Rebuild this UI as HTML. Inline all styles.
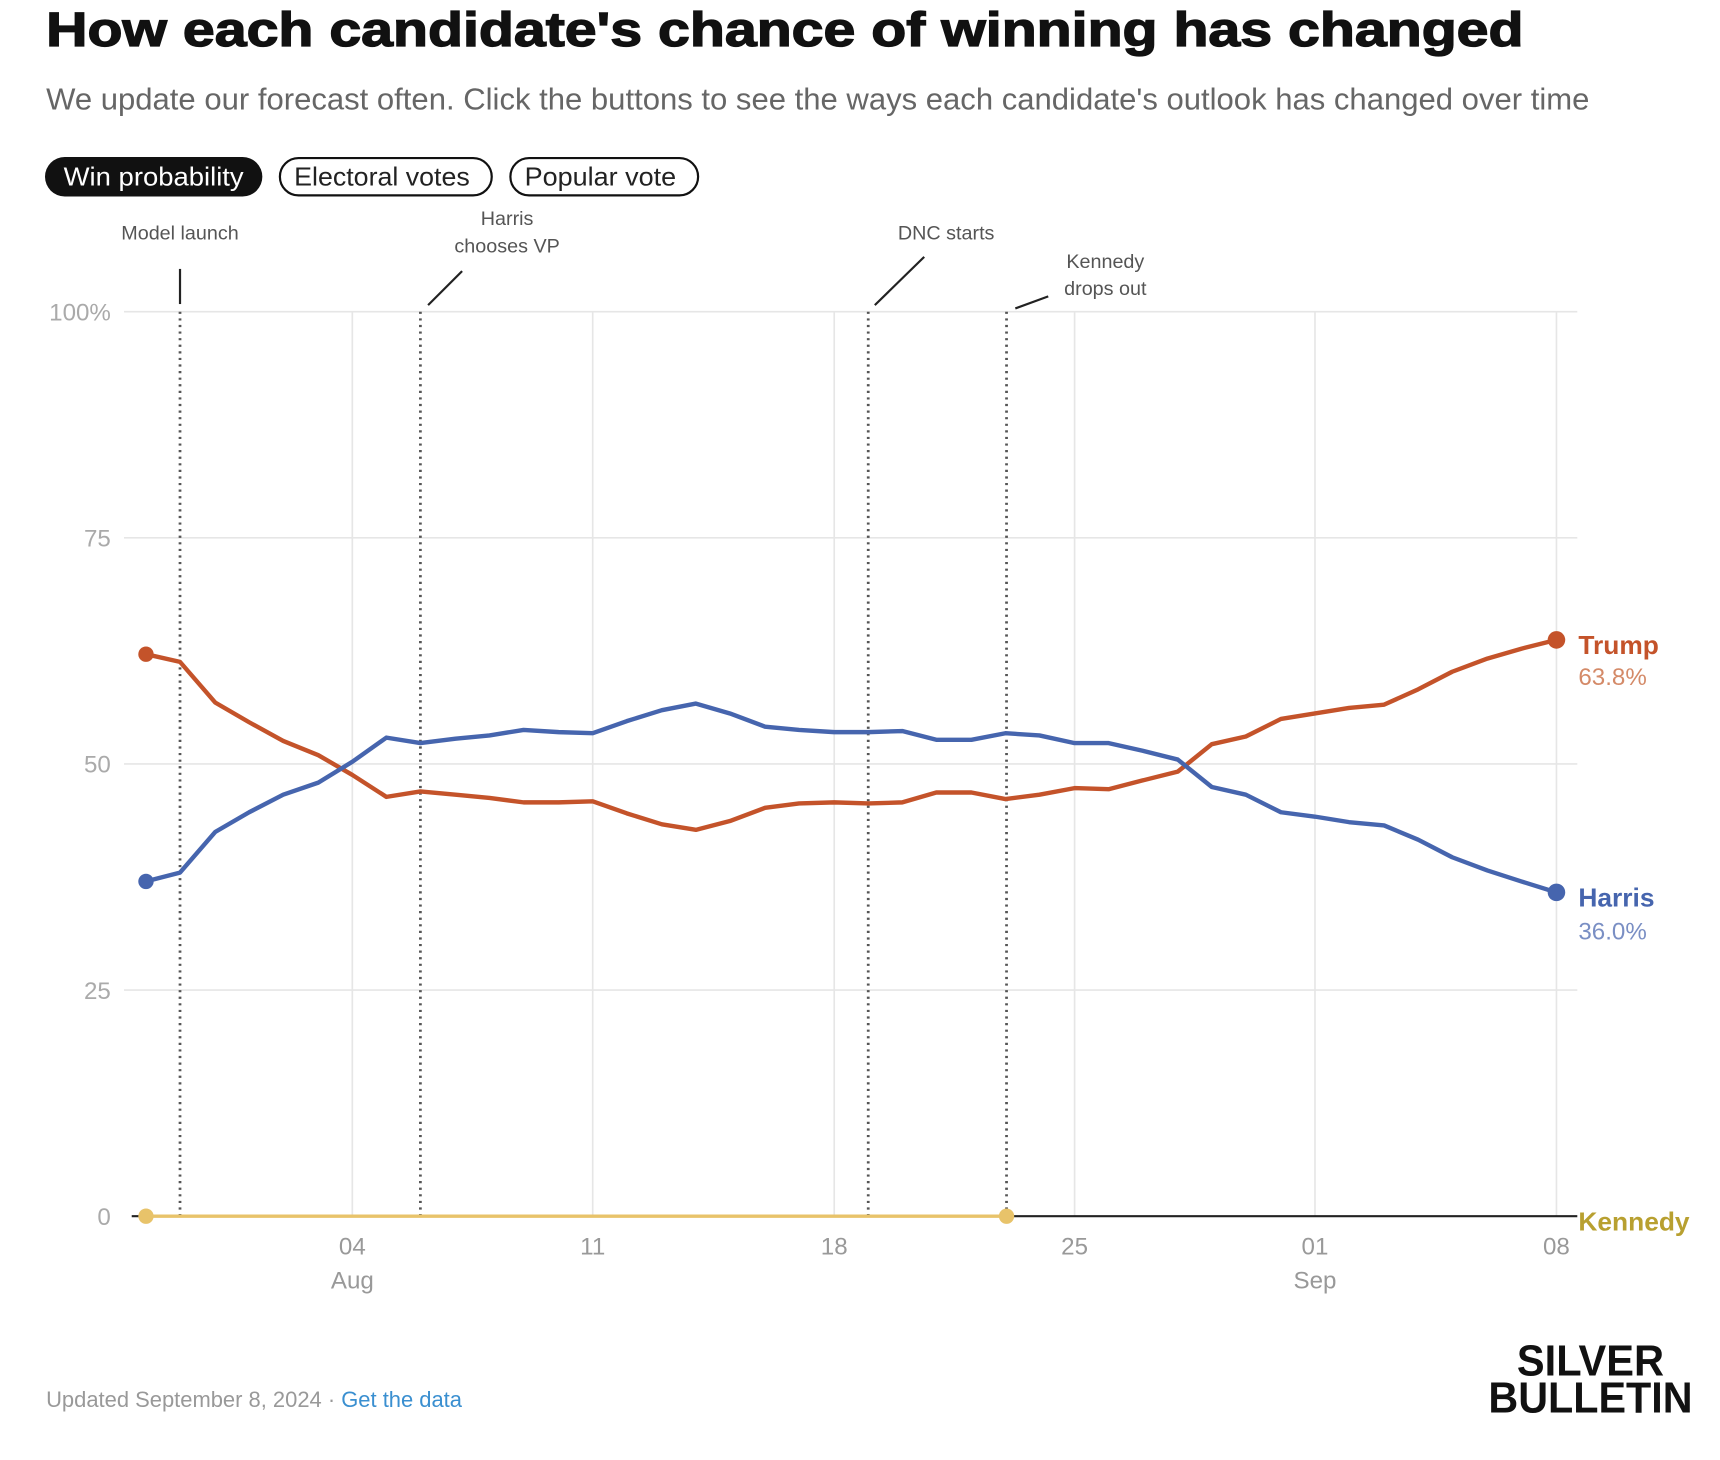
<!DOCTYPE html>
<html><head><meta charset="utf-8"><style>
html,body{margin:0;padding:0;background:#fff;}
svg{display:block;font-family:"Liberation Sans",sans-serif;}
</style></head><body>
<svg width="1720" height="1460" viewBox="0 0 1567 1330" preserveAspectRatio="xMinYMin meet" xmlns="http://www.w3.org/2000/svg">
<rect width="1567" height="1330" fill="#fff"/>
<text x="42" y="42" font-size="44" font-weight="bold" fill="#111" stroke="#111" stroke-width="1.2" textLength="1346" lengthAdjust="spacingAndGlyphs">How each candidate's chance of winning has changed</text>
<text x="42" y="100" font-size="28" fill="#666" textLength="1406" lengthAdjust="spacingAndGlyphs">We update our forecast often. Click the buttons to see the ways each candidate's outlook has changed over time</text>
<rect x="41" y="143" width="198" height="36" rx="18" fill="#111"/>
<text x="140" y="169" font-size="24" fill="#fff" text-anchor="middle" textLength="164" lengthAdjust="spacingAndGlyphs">Win probability</text>
<rect x="255" y="144" width="193" height="34" rx="17" fill="#fff" stroke="#111" stroke-width="2"/>
<text x="348" y="169" font-size="24" fill="#222" text-anchor="middle" textLength="160" lengthAdjust="spacingAndGlyphs">Electoral votes</text>
<rect x="465" y="144" width="171" height="34" rx="17" fill="#fff" stroke="#111" stroke-width="2"/>
<text x="547" y="169" font-size="24" fill="#222" text-anchor="middle" textLength="138" lengthAdjust="spacingAndGlyphs">Popular vote</text>
<g stroke="#e6e6e6" stroke-width="1.5">
<line x1="113" y1="284" x2="1437" y2="284"/><line x1="113" y1="490" x2="1437" y2="490"/><line x1="113" y1="696" x2="1437" y2="696"/><line x1="113" y1="902" x2="1437" y2="902"/>
<line x1="321" y1="284" x2="321" y2="1108"/><line x1="540" y1="284" x2="540" y2="1108"/><line x1="760" y1="284" x2="760" y2="1108"/><line x1="979" y1="284" x2="979" y2="1108"/><line x1="1198" y1="284" x2="1198" y2="1108"/><line x1="1418" y1="284" x2="1418" y2="1108"/>
</g>
<g font-size="22" fill="#aaa" text-anchor="end">
<text x="101" y="292">100%</text><text x="101" y="498">75</text><text x="101" y="704">50</text><text x="101" y="910">25</text><text x="101" y="1116">0</text>
</g>
<g font-size="22" fill="#999" text-anchor="middle">
<text x="321" y="1143">04</text><text x="321" y="1174">Aug</text><text x="540" y="1143">11</text><text x="760" y="1143">18</text><text x="979" y="1143">25</text><text x="1198" y="1143">01</text><text x="1198" y="1174">Sep</text><text x="1418" y="1143">08</text>
</g>
<g stroke="#555" stroke-width="2.5" stroke-dasharray="2,4">
<line x1="164" y1="284" x2="164" y2="1108"/><line x1="383" y1="284" x2="383" y2="1108"/><line x1="791" y1="284" x2="791" y2="1108"/><line x1="917" y1="284" x2="917" y2="1108"/>
</g>
<g font-size="18" fill="#555" text-anchor="middle">
<text x="164" y="218">Model launch</text>
<text x="462" y="205">Harris</text><text x="462" y="230">chooses VP</text>
<text x="862" y="218">DNC starts</text>
<text x="1007" y="244">Kennedy</text><text x="1007" y="269">drops out</text>
</g>
<g stroke="#222" stroke-width="2">
<line x1="164" y1="245" x2="164" y2="277"/><line x1="421" y1="247" x2="390" y2="278"/><line x1="842" y1="234" x2="797" y2="278"/><line x1="955" y1="270" x2="925" y2="281"/>
</g>
<line x1="120" y1="1108" x2="1437" y2="1108" stroke="#222" stroke-width="2"/>
<line x1="133" y1="1108" x2="917" y2="1108" stroke="#e8c36a" stroke-width="3"/>
<circle cx="133" cy="1108" r="7" fill="#e8c36a"/><circle cx="917" cy="1108" r="7" fill="#e8c36a"/>
<polyline fill="none" stroke="#c4532a" stroke-width="4" stroke-linejoin="round" points="133,596 164,603 196,640 227,658 258,675 290,688 321,706 352,726 383,721 415,724 446,727 477,731 509,731 540,730 571,741 603,751 634,756 665,748 697,736 728,732 760,731 791,732 822,731 853,722 885,722 916,728 947,724 979,718 1010,719 1041,711 1073,703 1104,678 1135,671 1167,655 1198,650 1229,645 1261,642 1292,628 1323,612 1355,600 1386,591 1418,583"/>
<polyline fill="none" stroke="#4665ae" stroke-width="4" stroke-linejoin="round" points="133,803 164,795 196,758 227,740 258,724 290,713 321,694 352,672 383,677 415,673 446,670 477,665 509,667 540,668 571,657 603,647 634,641 665,650 697,662 728,665 760,667 791,667 822,666 853,674 885,674 916,668 947,670 979,677 1010,677 1041,684 1073,692 1104,717 1135,724 1167,740 1198,744 1229,749 1261,752 1292,765 1323,781 1355,793 1386,803 1418,813"/>
<circle cx="133" cy="596" r="7" fill="#c4532a"/><circle cx="1418" cy="583" r="8" fill="#c4532a"/>
<circle cx="133" cy="803" r="7" fill="#4665ae"/><circle cx="1418" cy="813" r="8" fill="#4665ae"/>
<text x="1438" y="596" font-size="24" font-weight="bold" fill="#c4532a">Trump</text>
<text x="1438" y="624" font-size="22" fill="#d48a68">63.8%</text>
<text x="1438" y="826" font-size="24" font-weight="bold" fill="#4665ae">Harris</text>
<text x="1438" y="856" font-size="22" fill="#7a8fc4">36.0%</text>
<text x="1438" y="1121" font-size="24" font-weight="bold" fill="#b8a030">Kennedy</text>
<text x="42" y="1282" font-size="20" fill="#999">Updated September 8, 2024 · <tspan fill="#3a8fd0">Get the data</tspan></text>
<text x="1516" y="1253" font-size="40" font-weight="bold" fill="#111" text-anchor="end" textLength="134" lengthAdjust="spacingAndGlyphs">SILVER</text>
<text x="1542" y="1287" font-size="40" font-weight="bold" fill="#111" text-anchor="end" textLength="186" lengthAdjust="spacingAndGlyphs">BULLETIN</text>
</svg>
</body></html>
